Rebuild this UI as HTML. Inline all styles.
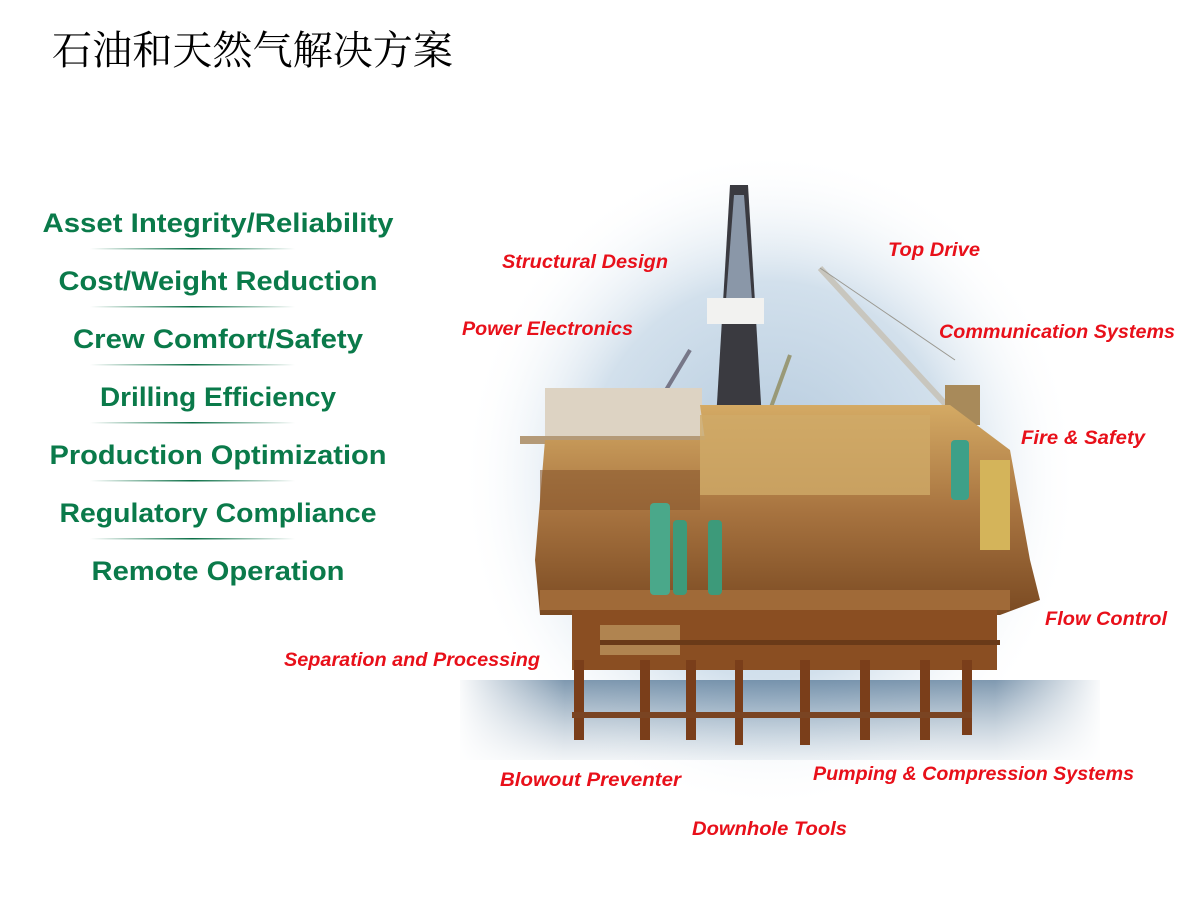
<!DOCTYPE html>
<html><head><meta charset="utf-8"><style>
html,body{margin:0;padding:0;background:#fff;}
svg{display:block}
</style></head><body>
<svg width="1200" height="900" viewBox="0 0 1200 900" xmlns="http://www.w3.org/2000/svg">
<defs>
<radialGradient id="glow" cx="0.5" cy="0.5" r="0.5">
<stop offset="0" stop-color="#b2c8dc"/>
<stop offset="0.6" stop-color="#d2e0ec"/>
<stop offset="1" stop-color="#ffffff" stop-opacity="0"/>
</radialGradient>
<linearGradient id="sea" x1="0" y1="0" x2="0" y2="1">
<stop offset="0" stop-color="#5f7f9c"/>
<stop offset="1" stop-color="#8aa3b8" stop-opacity="0.15"/>
</linearGradient>
<linearGradient id="fadeL" x1="0" x2="1">
<stop offset="0" stop-color="#fff"/>
<stop offset="1" stop-color="#fff" stop-opacity="0"/>
</linearGradient>
<linearGradient id="fadeR" x1="1" x2="0">
<stop offset="0" stop-color="#fff"/>
<stop offset="1" stop-color="#fff" stop-opacity="0"/>
</linearGradient>
<linearGradient id="div" x1="0" x2="1">
<stop offset="0" stop-color="#0a6e45" stop-opacity="0"/>
<stop offset="0.5" stop-color="#0a6e45"/>
<stop offset="1" stop-color="#0a6e45" stop-opacity="0"/>
</linearGradient>
<linearGradient id="deck" x1="0" y1="0" x2="0" y2="1">
<stop offset="0" stop-color="#d4aa64"/>
<stop offset="0.5" stop-color="#a87440"/>
<stop offset="1" stop-color="#7a4a22"/>
</linearGradient>
</defs>
<text x="52" y="64" font-family="'Liberation Serif','Noto Serif CJK SC',serif" font-size="40" fill="#000" textLength="401" lengthAdjust="spacingAndGlyphs">石油和天然气解决方案</text>

<ellipse cx="770" cy="480" rx="310" ry="330" fill="url(#glow)"/>
<rect x="460" y="680" width="640" height="80" fill="url(#sea)" opacity="0.8"/>
<rect x="455" y="675" width="110" height="90" fill="url(#fadeL)"/>
<rect x="995" y="675" width="110" height="90" fill="url(#fadeR)"/>

<polygon points="730,185 748,185 762,420 716,420" fill="#3a3a40"/>
<polygon points="734,195 744,195 752,300 726,300" fill="#8a97a8"/>
<rect x="707" y="298" width="57" height="26" fill="#f2f2f0"/>
<line x1="690" y1="350" x2="660" y2="400" stroke="#778" stroke-width="4"/>
<line x1="790" y1="355" x2="770" y2="410" stroke="#997" stroke-width="4"/>
<line x1="820" y1="268" x2="960" y2="420" stroke="#c8c6be" stroke-width="6"/>
<line x1="820" y1="268" x2="955" y2="360" stroke="#9a9890" stroke-width="1"/>
<rect x="945" y="385" width="35" height="40" fill="#a88a5a"/>

<rect x="545" y="388" width="157" height="50" fill="#ddd3c3"/>
<rect x="520" y="436" width="185" height="8" fill="#b49a78"/>
<polygon points="700,405 950,405 1010,450 1030,560 1040,600 1000,615 540,615 535,560 545,440 705,440" fill="url(#deck)"/>
<rect x="700" y="415" width="230" height="80" fill="#d0aa68" opacity="0.8"/>
<rect x="540" y="470" width="160" height="40" fill="#8a5a30" opacity="0.6"/>
<rect x="980" y="460" width="30" height="90" fill="#d4b45a"/>
<rect x="540" y="590" width="470" height="20" fill="#a06a38"/>
<rect x="650" y="503" width="20" height="92" rx="4" fill="#4aa88a"/>
<rect x="673" y="520" width="14" height="75" rx="4" fill="#3d9a7a"/>
<rect x="708" y="520" width="14" height="75" rx="4" fill="#3d9a7a"/>
<rect x="951" y="440" width="18" height="60" rx="4" fill="#3da088"/>
<rect x="572" y="610" width="425" height="60" fill="#8a4e22"/>
<rect x="600" y="625" width="80" height="30" fill="#b08450"/>
<rect x="600" y="640" width="400" height="5" fill="#6a3a18"/>
<g fill="#7a3e1a">
<rect x="574" y="660" width="10" height="80"/><rect x="640" y="660" width="10" height="80"/>
<rect x="686" y="660" width="10" height="80"/><rect x="735" y="660" width="8" height="85"/>
<rect x="800" y="660" width="10" height="85"/><rect x="860" y="660" width="10" height="80"/>
<rect x="920" y="660" width="10" height="80"/><rect x="962" y="660" width="10" height="75"/>
</g>
<rect x="572" y="712" width="400" height="6" fill="#7a4422"/>

<g font-family="'Liberation Sans',sans-serif" font-weight="bold" font-size="27" fill="#0a7a4a" text-anchor="middle">
<text x="218" y="232" textLength="351" lengthAdjust="spacingAndGlyphs">Asset Integrity/Reliability</text>
<text x="218" y="290" textLength="319" lengthAdjust="spacingAndGlyphs">Cost/Weight Reduction</text>
<text x="218" y="348" textLength="290" lengthAdjust="spacingAndGlyphs">Crew Comfort/Safety</text>
<text x="218" y="406" textLength="236" lengthAdjust="spacingAndGlyphs">Drilling Efficiency</text>
<text x="218" y="464" textLength="337" lengthAdjust="spacingAndGlyphs">Production Optimization</text>
<text x="218" y="522" textLength="317" lengthAdjust="spacingAndGlyphs">Regulatory Compliance</text>
<text x="218" y="580" textLength="253" lengthAdjust="spacingAndGlyphs">Remote Operation</text>
</g>
<g fill="url(#div)">
<rect x="90" y="248" width="205" height="1.5"/><rect x="90" y="306" width="205" height="1.5"/>
<rect x="90" y="364" width="205" height="1.5"/><rect x="90" y="422" width="205" height="1.5"/>
<rect x="90" y="480" width="205" height="1.5"/><rect x="90" y="538" width="205" height="1.5"/>
</g>

<g font-family="'Liberation Sans',sans-serif" font-weight="bold" font-style="italic" font-size="19" fill="#e8101a">
<text x="502" y="268" textLength="166" lengthAdjust="spacingAndGlyphs">Structural Design</text>
<text x="888" y="256" textLength="92" lengthAdjust="spacingAndGlyphs">Top Drive</text>
<text x="462" y="335" textLength="171" lengthAdjust="spacingAndGlyphs">Power Electronics</text>
<text x="939" y="338" textLength="236" lengthAdjust="spacingAndGlyphs">Communication Systems</text>
<text x="1021" y="444" textLength="124" lengthAdjust="spacingAndGlyphs">Fire &amp; Safety</text>
<text x="1045" y="625" textLength="122" lengthAdjust="spacingAndGlyphs">Flow Control</text>
<text x="284" y="666" textLength="256" lengthAdjust="spacingAndGlyphs">Separation and Processing</text>
<text x="500" y="786" textLength="181" lengthAdjust="spacingAndGlyphs">Blowout Preventer</text>
<text x="813" y="780" textLength="321" lengthAdjust="spacingAndGlyphs">Pumping &amp; Compression Systems</text>
<text x="692" y="835" textLength="155" lengthAdjust="spacingAndGlyphs">Downhole Tools</text>
</g>
</svg>
</body></html>
